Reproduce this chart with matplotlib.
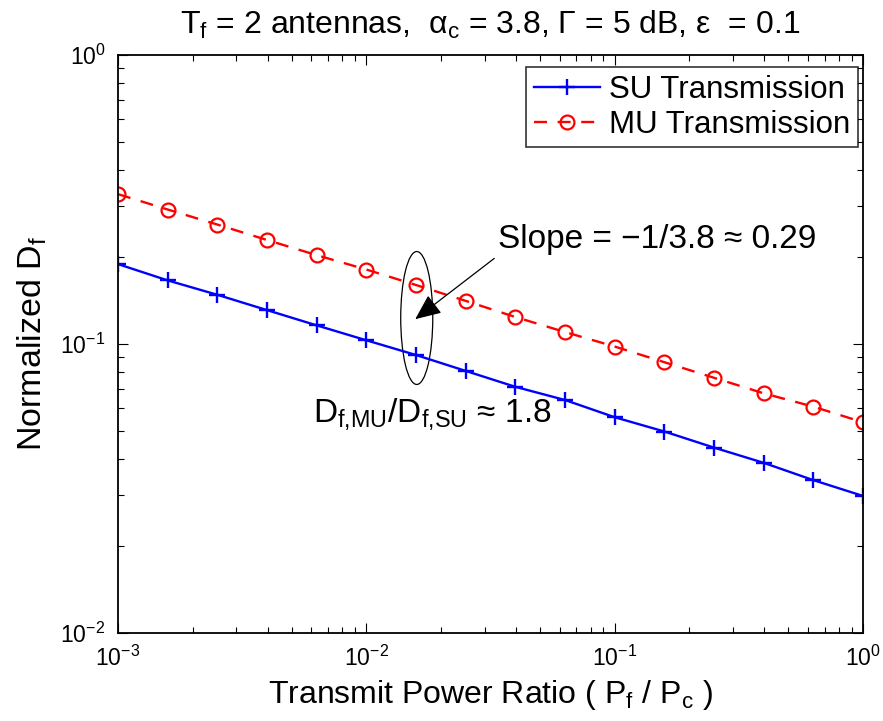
import numpy as np
import matplotlib
matplotlib.use("Agg")
import matplotlib.pyplot as plt
from matplotlib.patches import Ellipse

# ---- data ----
power_ratio = [1e-3, 10**-2.8, 10**-2.6, 10**-2.4, 10**-2.2, 1e-2, 10**-1.8, 10**-1.6,
               10**-1.4, 10**-1.2, 1e-1, 10**-0.8, 10**-0.6, 10**-0.4, 10**-0.2, 1e0]
su_values = [0.189, 0.166, 0.148, 0.131, 0.116, 0.103, 0.0916, 0.0807,
             0.0711, 0.0640, 0.0558, 0.0498, 0.0438, 0.0388, 0.0338, 0.0298]
mu_values = [0.330, 0.292, 0.259, 0.229, 0.203, 0.181, 0.160, 0.141,
             0.124, 0.110, 0.098, 0.0865, 0.0764, 0.0675, 0.0607, 0.0536]
series_labels = ["SU Transmission", "MU Transmission"]

plt.rcParams['font.family'] = ['Liberation Sans', 'DejaVu Sans']
plt.rcParams['mathtext.default'] = 'regular'

fig = plt.figure(figsize=(8.83, 7.21), dpi=100)
ax = fig.add_axes([118/883, 1-633/721, 745/883, 578/721])

ax.plot(power_ratio, su_values, color='#0000ff', lw=1.7, marker='+',
        markersize=11, markeredgewidth=1.7, label=series_labels[0])
ax.plot(power_ratio, mu_values, color='#ff0000', lw=1.7, linestyle=(0, (5.5, 4.5)),
        marker='o', markersize=10, markerfacecolor='none', markeredgewidth=1.6,
        label=series_labels[1])

ax.set_xscale('log')
ax.set_yscale('log')
ax.set_xlim(1e-3, 1e0)
ax.set_ylim(1e-2, 1e0)

for s in ax.spines.values():
    s.set_linewidth(1.3)
ax.tick_params(which='both', direction='in', top=True, right=True, labelsize=16.5, width=0.8)
ax.tick_params(which='major', length=7, pad=9)
ax.tick_params(which='minor', length=4)

ax.set_xlabel("Transmit Power Ratio ( P$_f$ / P$_c$ )", fontsize=23, labelpad=5)
ax.set_ylabel("Normalized D$_f$", fontsize=24.5, labelpad=8)
ax.set_title("T$_f$ = 2 antennas,  α$_c$ = 3.8, Γ = 5 dB, ε  = 0.1", fontsize=23, pad=15)

leg = ax.legend(loc='upper right', fontsize=22.5, frameon=True, fancybox=False,
                edgecolor='black', borderpad=0.25, handlelength=2.1, handletextpad=0.3,
                labelspacing=0.15, borderaxespad=0.0, bbox_to_anchor=(0.9933, 0.979))
leg.get_frame().set_linewidth(1.2)

ell = Ellipse((0.401, 0.545), 0.043, 0.230, transform=ax.transAxes,
              fill=False, edgecolor='black', lw=0.9)
ax.add_patch(ell)

ax.annotate("", xy=(0.396, 0.540), xycoords='axes fraction',
            xytext=(0.508, 0.651), textcoords='axes fraction',
            arrowprops=dict(arrowstyle='-|>,head_length=0.8,head_width=0.35',
                            color='black', lw=0.9, mutation_scale=20))
ax.text(0.510, 0.666, "Slope = −1/3.8 ≈ 0.29", transform=ax.transAxes,
        fontsize=24, ha='left', va='baseline')
ax.text(0.262, 0.365, "D$_{f{,}MU}$/D$_{f{,}SU}$ ≈ 1.8", transform=ax.transAxes,
        fontsize=24, ha='left', va='baseline')

fig.savefig("out.png", dpi=100)
